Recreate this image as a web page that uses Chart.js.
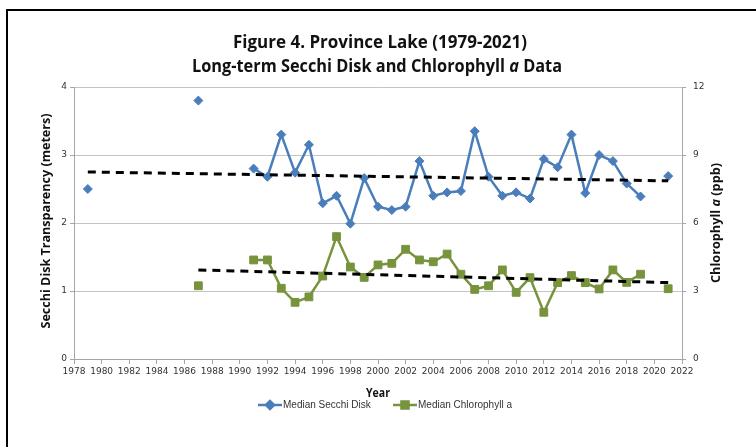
<!DOCTYPE html>
<html>
<head>
<meta charset="utf-8">
<script src="https://cdn.jsdelivr.net/npm/chart.js@4/dist/chart.umd.min.js"></script>
<style>
  html, body { margin: 0; padding: 0; background: #fff; }
  #wrap { width: 756px; height: 447px; }
</style>
</head>
<body>
<div id="wrap"><canvas id="chart" width="756" height="447"></canvas></div>
<script>
// --- Data ---
const years = [
  1979, 1980, 1981, 1982, 1983, 1984, 1985, 1986, 1987, 1988,
  1989, 1990, 1991, 1992, 1993, 1994, 1995, 1996, 1997, 1998,
  1999, 2000, 2001, 2002, 2003, 2004, 2005, 2006, 2007, 2008,
  2009, 2010, 2011, 2012, 2013, 2014, 2015, 2016, 2017, 2018,
  2019, 2020, 2021
];

// Median Secchi disk transparency (meters), left axis
const secchi = [
  2.5, null, null, null, null, null, null, null, 3.8, null,
  null, null, 2.8, 2.68, 3.3, 2.74, 3.15, 2.29, 2.4, 1.99,
  2.66, 2.24, 2.19, 2.24, 2.91, 2.4, 2.45, 2.47, 3.35, 2.68,
  2.4, 2.45, 2.36, 2.94, 2.82, 3.3, 2.44, 3.0, 2.91, 2.58,
  2.39, null, 2.69
];

// Median chlorophyll a (ppb), right axis
const chlorophyll = [
  null, null, null, null, null, null, null, null, 3.23, null,
  null, null, 4.37, 4.37, 3.12, 2.5, 2.74, 3.66, 5.4, 4.06,
  3.6, 4.15, 4.22, 4.84, 4.37, 4.29, 4.63, 3.74, 3.07, 3.23,
  3.93, 2.94, 3.59, 2.06, 3.37, 3.68, 3.37, 3.09, 3.93, 3.38,
  3.74, null, 3.1
];

// Trend lines (end points)
const secchiTrendYears = [1979, 2021];
const secchiTrend = [2.75, 2.62];
const chlTrendYears = [1987, 2021];
const chlTrend = [3.93, 3.37];

const xTicks = [1978, 1980, 1982, 1984, 1986, 1988, 1990, 1992, 1994, 1996, 1998, 2000,
  2002, 2004, 2006, 2008, 2010, 2012, 2014, 2016, 2018, 2020, 2022];
const leftTicks = [0, 1, 2, 3, 4];
const rightTicks = [0, 3, 6, 9, 12];

const COLORS = {
  secchi: '#4a7ebb',
  chl: '#77933c',
  trend: '#000000',
  axis: '#a6a6a6',
  grid: '#c4c4c4',
  text: '#333333',
  title: '#111111'
};

const pts = (xs, ys) => xs.map((x, i) => ({ x: x, y: ys[i] }));

// --- text helper: mixed bold / italic runs, squeezed to a width ---
function richText(ctx, parts, cx, cy, fitWidth, size, angle) {
  ctx.save();
  ctx.translate(cx, cy);
  if (angle) ctx.rotate(angle);
  const fonts = parts.map(p => (p.i ? 'italic ' : '') + 'bold ' + size + 'px "Open Sans", sans-serif');
  let total = 0;
  const widths = parts.map((p, k) => {
    ctx.font = fonts[k];
    const w = ctx.measureText(p.t).width;
    total += w;
    return w;
  });
  if (fitWidth) ctx.scale(fitWidth / total, 1);
  ctx.textBaseline = 'middle';
  ctx.textAlign = 'left';
  ctx.fillStyle = COLORS.title;
  let x = -total / 2;
  parts.forEach((p, k) => {
    ctx.font = fonts[k];
    ctx.fillText(p.t, x, 0);
    x += widths[k];
  });
  ctx.restore();
}

const decor = {
  id: 'decor',
  beforeDraw(chart) {
    const ctx = chart.ctx;
    ctx.save();
    ctx.strokeStyle = '#000';
    ctx.lineWidth = 2;
    ctx.strokeRect(7, 10, 800, 500);
    ctx.restore();
  },
  afterDraw(chart) {
    const ctx = chart.ctx;
    richText(ctx, [{ t: 'Figure 4. Province Lake (1979-2021)' }], 380, 43, 294, 17);
    richText(ctx, [{ t: 'Long-term Secchi Disk and Chlorophyll ' }, { t: 'a', i: true }, { t: ' Data' }], 377, 67, 370, 17);
    richText(ctx, [{ t: 'Secchi Disk Transparency (meters)' }], 47, 221, 215, 12, -Math.PI / 2);
    richText(ctx, [{ t: 'Chlorophyll ' }, { t: 'a', i: true }, { t: ' (ppb)' }], 717, 223, 120, 12, -Math.PI / 2);
    richText(ctx, [{ t: 'Year' }], 378, 394, 24, 12);

    // legend (first two datasets)
    const starts = [258, 393];
    const ly = 405;
    chart.data.datasets.slice(0, 2).forEach((ds, i) => {
      const x0 = starts[i];
      ctx.save();
      ctx.strokeStyle = ds.borderColor;
      ctx.lineWidth = 2.5;
      ctx.beginPath();
      ctx.moveTo(x0, ly);
      ctx.lineTo(x0 + 24, ly);
      ctx.stroke();
      ctx.fillStyle = ds.borderColor;
      Chart.helpers.drawPoint(ctx, {
        pointStyle: ds.pointStyle,
        radius: ds.pointRadius - 0.5,
        rotation: 0,
        borderWidth: 1
      }, x0 + 12, ly);
      ctx.fill();
      ctx.font = '10px "Liberation Sans", sans-serif';
      ctx.fillStyle = COLORS.text;
      ctx.textBaseline = 'middle';
      ctx.textAlign = 'left';
      ctx.fillText(ds.label, x0 + 25, ly);
      ctx.restore();
    });
  }
};

new Chart(document.getElementById('chart'), {
  type: 'line',
  data: {
    datasets: [
      {
        label: 'Median Secchi Disk',
        data: pts(years, secchi),
        yAxisID: 'y',
        borderColor: COLORS.secchi,
        backgroundColor: COLORS.secchi,
        borderWidth: 2.5,
        pointStyle: 'rectRot',
        pointRadius: 4.5,
        pointBorderWidth: 1,
        tension: 0,
        order: 3
      },
      {
        label: 'Median Chlorophyll a',
        data: pts(years, chlorophyll),
        yAxisID: 'y1',
        borderColor: COLORS.chl,
        backgroundColor: COLORS.chl,
        borderWidth: 2.5,
        pointStyle: 'rect',
        pointRadius: 5.5,
        pointBorderWidth: 1,
        tension: 0,
        order: 4
      },
      {
        label: 'Secchi trend',
        data: pts(secchiTrendYears, secchiTrend),
        yAxisID: 'y',
        borderColor: COLORS.trend,
        borderWidth: 3,
        borderDash: [8, 6],
        pointRadius: 0,
        order: 1
      },
      {
        label: 'Chlorophyll trend',
        data: pts(chlTrendYears, chlTrend),
        yAxisID: 'y1',
        borderColor: COLORS.trend,
        borderWidth: 3,
        borderDash: [8, 6],
        pointRadius: 0,
        order: 2
      }
    ]
  },
  options: {
    responsive: false,
    animation: false,
    layout: { padding: { top: 87, left: 0, right: 0, bottom: 0 } },
    plugins: {
      legend: { display: false },
      tooltip: { enabled: false },
      title: { display: false }
    },
    scales: {
      x: {
        type: 'linear',
        min: 1978,
        max: 2022,
        afterFit: s => { s.height = 88; },
        afterBuildTicks: s => { s.ticks = xTicks.map(v => ({ value: v })); },
        ticks: {
          autoSkip: false,
          maxRotation: 0,
          padding: 2,
          color: COLORS.text,
          font: { family: 'DejaVu Sans', size: 9 },
          callback: v => String(v)
        },
        grid: {
          drawOnChartArea: false,
          drawTicks: true,
          tickLength: 5,
          color: COLORS.axis
        },
        border: { color: COLORS.axis, width: 1 }
      },
      y: {
        position: 'left',
        min: 0,
        max: 4,
        afterFit: s => { s.width = 74; },
        afterBuildTicks: s => { s.ticks = leftTicks.map(v => ({ value: v })); },
        ticks: {
          padding: 3,
          color: COLORS.text,
          font: { family: 'DejaVu Sans', size: 9 }
        },
        grid: {
          color: COLORS.grid,
          borderDash: [1, 2],
          tickBorderDash: [],
          tickColor: COLORS.axis,
          tickLength: 4,
          lineWidth: 1
        },
        border: { color: COLORS.axis, width: 1 }
      },
      y1: {
        position: 'right',
        min: 0,
        max: 12,
        afterFit: s => { s.width = 74; },
        afterBuildTicks: s => { s.ticks = rightTicks.map(v => ({ value: v })); },
        ticks: {
          padding: 7,
          color: COLORS.text,
          font: { family: 'DejaVu Sans', size: 9 }
        },
        grid: {
          drawOnChartArea: false,
          tickLength: 4,
          color: COLORS.axis
        },
        border: { color: COLORS.axis, width: 1 }
      }
    }
  },
  plugins: [decor]
});
</script>
</body>
</html>
